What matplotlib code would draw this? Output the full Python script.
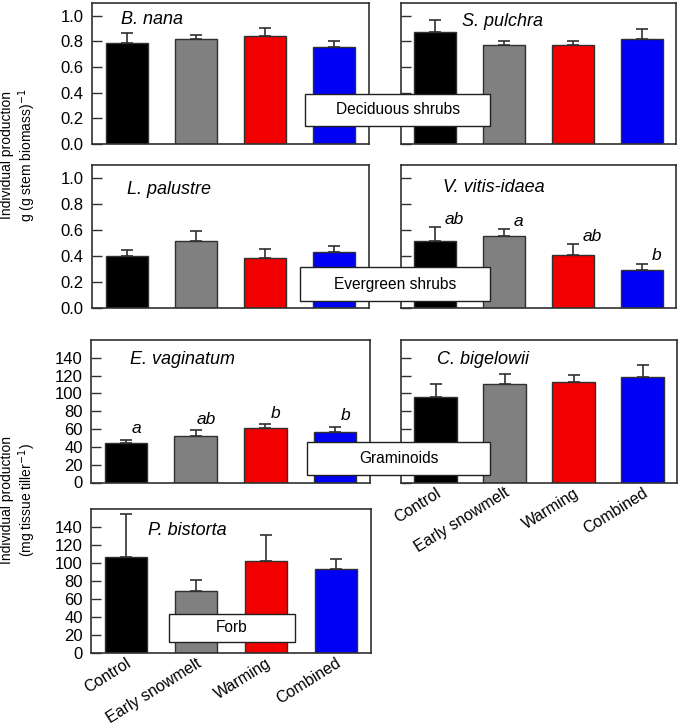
import matplotlib
matplotlib.use("Agg")
import matplotlib.pyplot as plt
from matplotlib.patches import Rectangle
import numpy as np

plt.rcParams['font.family'] = ['Liberation Sans', 'DejaVu Sans']

treatments = ["Control", "Early snowmelt", "Warming", "Combined"]
colors = ["#000000", "#808080", "#f20000", "#0000f5"]

b_nana = [0.787, 0.818, 0.844, 0.755]
b_nana_top = [0.865, 0.850, 0.904, 0.805]
s_pulchra = [0.875, 0.776, 0.776, 0.820]
s_pulchra_top = [0.970, 0.807, 0.807, 0.896]
l_palustre = [0.394, 0.510, 0.384, 0.428]
l_palustre_top = [0.441, 0.588, 0.454, 0.472]
v_vitis = [0.510, 0.552, 0.402, 0.291]
v_vitis_top = [0.619, 0.603, 0.487, 0.338]
v_vitis_letters = ["ab", "a", "ab", "b"]
e_vag = [44.8, 52.3, 60.8, 57.1]
e_vag_top = [48.2, 58.6, 65.3, 62.7]
e_vag_letters = ["a", "ab", "b", "b"]
c_big = [96.3, 110.1, 112.4, 118.3]
c_big_top = [110.5, 121.7, 120.6, 132.1]
p_bis = [106.4, 68.3, 101.9, 93.3]
p_bis_top = [154.5, 80.6, 131.0, 104.5]

W, H = 682, 725
fig = plt.figure(figsize=(W / 100, H / 100), dpi=100)

def px_axes(l, r, t, b):
    return fig.add_axes([l / W, 1 - b / H, (r - l) / W, (b - t) / H])

def panel(ax, vals, tops, title, tx, ty, ylim, yticks, ylabels, show_y, show_x):
    x = np.arange(len(vals))
    ax.bar(x, vals, width=0.61, color=colors, edgecolor="#303030", linewidth=1.0, zorder=2)
    lower = [0] * len(vals)
    upper = [t - v for t, v in zip(tops, vals)]
    ax.errorbar(x, vals, yerr=[lower, upper], fmt="none", ecolor="#303030",
                elinewidth=1.2, capsize=4.5, capthick=1.2, zorder=3)
    ax.set_xlim(-0.5, 3.5)
    ax.set_ylim(*ylim)
    ax.set_yticks(yticks)
    if show_y:
        ax.set_yticklabels(ylabels, fontsize=12)
    else:
        ax.set_yticklabels([])
    ax.tick_params(axis="y", direction="in", length=7, width=1, pad=6, color="#303030")
    ax.tick_params(axis="x", length=0)
    ax.set_xticks(x)
    if show_x:
        ax.set_xticklabels(treatments, rotation=32, ha="right", va="top",
                           rotation_mode="anchor", fontsize=11.5)
        ax.tick_params(axis="x", pad=2)
    else:
        ax.set_xticklabels([])
    for s in ax.spines.values():
        s.set_linewidth(1.2)
        s.set_color("#303030")
    ax.text(tx, ty, title, transform=ax.transAxes, fontsize=13, style="italic",
            ha="left", va="center")

t1 = [0.0, 0.2, 0.4, 0.6, 0.8, 1.0]
t1l = ["0.0", "0.2", "0.4", "0.6", "0.8", "1.0"]
t2 = [0, 20, 40, 60, 80, 100, 120, 140]
t2l = [str(v) for v in t2]

a1 = px_axes(92, 369, 3, 144)
panel(a1, b_nana, b_nana_top, "B. nana", 0.105, 0.88, (0, 1.1), t1, t1l, True, False)
a2 = px_axes(401, 676, 3, 144)
panel(a2, s_pulchra, s_pulchra_top, "S. pulchra", 0.22, 0.87, (0, 1.1), t1, t1l, False, False)
a3 = px_axes(92, 369, 165, 307.5)
panel(a3, l_palustre, l_palustre_top, "L. palustre", 0.126, 0.83, (0, 1.1), t1, t1l, True, False)
a4 = px_axes(401, 676, 165, 307.5)
panel(a4, v_vitis, v_vitis_top, "V. vitis-idaea", 0.153, 0.845, (0, 1.1), t1, t1l, False, False)
for i, (lt, tp) in enumerate(zip(v_vitis_letters, v_vitis_top)):
    a4.text(i + 0.14, tp + 0.005, lt, fontsize=12.5, style="italic", ha="left", va="bottom")
a5 = px_axes(91, 370, 340, 482.5)
panel(a5, e_vag, e_vag_top, "E. vaginatum", 0.14, 0.86, (0, 160), t2, t2l, True, False)
for i, (lt, tp) in enumerate(zip(e_vag_letters, e_vag_top)):
    a5.text(i + 0.15, tp + 4, lt, fontsize=12.5, style="italic", ha="center", va="bottom")
a6 = px_axes(401, 677, 340, 482.5)
panel(a6, c_big, c_big_top, "C. bigelowii", 0.13, 0.865, (0, 160), t2, t2l, False, True)
a7 = px_axes(91, 371, 509, 652.7)
panel(a7, p_bis, p_bis_top, "P. bistorta", 0.205, 0.85, (0, 160), t2, t2l, True, True)

def label_box(l, r, t, b, text):
    rect = Rectangle((l / W, 1 - b / H), (r - l) / W, (b - t) / H, transform=fig.transFigure,
                     facecolor="white", edgecolor="#202020", linewidth=1.0, zorder=10)
    fig.add_artist(rect)
    fig.text((l + r) / 2 / W, 1 - (t + b) / 2 / H, text, ha="center", va="center",
             fontsize=11.2, zorder=11)

label_box(305, 490, 94, 126, "Deciduous shrubs")
label_box(300, 490, 267, 301, "Evergreen shrubs")
label_box(307, 490, 442, 475, "Graminoids")
label_box(169, 295, 614, 642, "Forb")

fig.text(19 / W, 1 - 155 / H, "Individual production\ng (g stem biomass)$^{-1}$",
         rotation=90, ha="center", va="center", fontsize=10, multialignment="center",
         linespacing=1.15)
fig.text(19 / W, 1 - 500 / H, "Individual production\n(mg tissue tiller$^{-1}$)",
         rotation=90, ha="center", va="center", fontsize=10, multialignment="center",
         linespacing=1.15)

fig.savefig("out.png", dpi=100)
